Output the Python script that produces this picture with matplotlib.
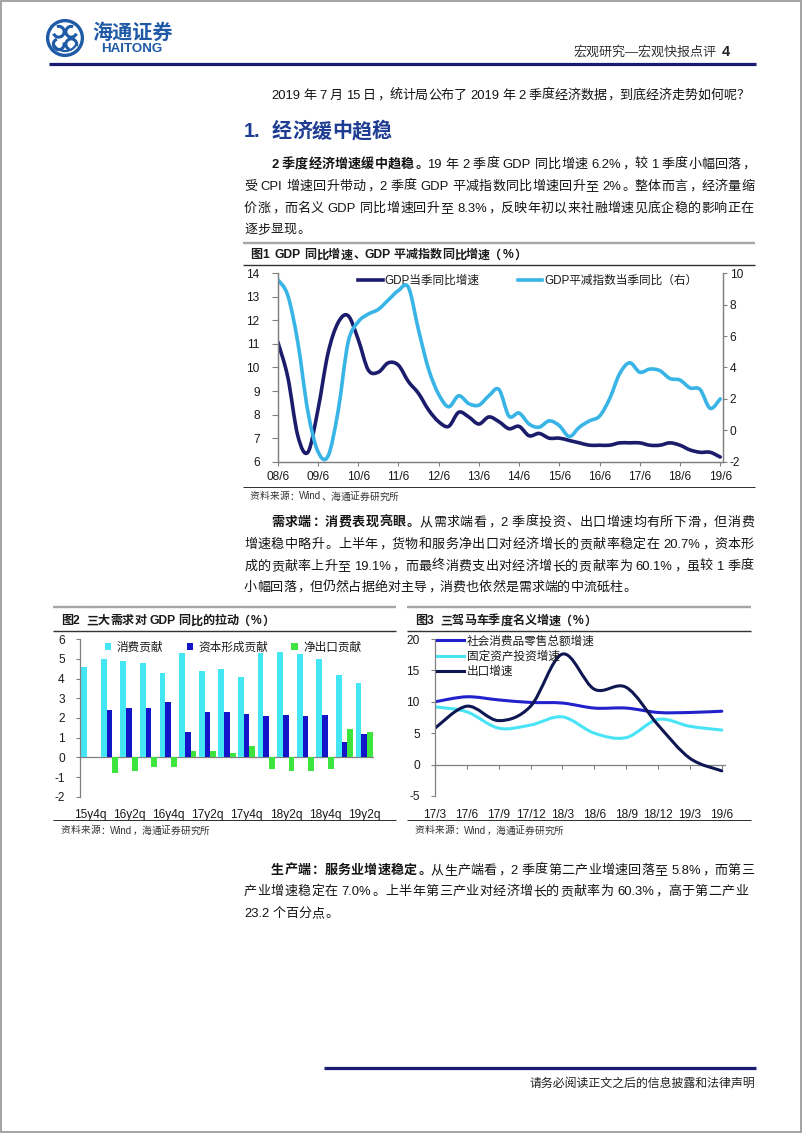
import numpy as np
import matplotlib
matplotlib.use("Agg")
import matplotlib.pyplot as plt
from matplotlib.path import Path
from matplotlib.patches import PathPatch, Rectangle, Circle, Arc, Patch
from matplotlib.lines import Line2D

plt.rcParams['font.family'] = ['Liberation Sans', 'Noto Sans CJK SC']
plt.rcParams['axes.unicode_minus'] = False

# ---------------- data ----------------
# Fig 1: quarterly, 2008Q2 .. 2019Q2
gdp_yoy = [11.1, 9.6, 7.1, 6.4, 8.2, 10.6, 11.9, 12.2, 11.2, 9.9, 9.8, 10.2, 10.1,
           9.4, 8.9, 8.2, 7.7, 7.5, 8.1, 7.9, 7.6, 7.9, 7.7, 7.4, 7.5, 7.1, 7.2,
           7.0, 7.0, 6.9, 6.8, 6.7, 6.7, 6.7, 6.8, 6.8, 6.8, 6.7, 6.7, 6.8, 6.7,
           6.5, 6.4, 6.4, 6.2]
deflator_yoy = [9.6, 8.6, 5.6, 1.2, -1.35, -1.65, 1.2, 5.6, 6.9, 7.4, 7.7, 8.3, 8.9,
                9.1, 6.4, 3.9, 2.3, 1.5, 2.2, 1.7, 1.6, 2.2, 2.6, 0.9, 1.1, 0.4, 0.2,
                0.6, 0.3, -0.4, 0.2, 0.6, 0.9, 2.0, 3.6, 4.3, 3.7, 3.9, 3.8, 3.3, 3.2,
                2.7, 2.6, 1.4, 2.0]
fig1_xlabels = ['08/6', '09/6', '10/6', '11/6', '12/6', '13/6', '14/6', '15/6',
                '16/6', '17/6', '18/6', '19/6']

# Fig 2: quarterly 15y4q .. 19y2q
fig2_cats = ['15y4q', '16y1q', '16y2q', '16y3q', '16y4q', '17y1q', '17y2q', '17y3q',
             '17y4q', '18y1q', '18y2q', '18y3q', '18y4q', '19y1q', '19y2q']
consumption = [4.6, 5.0, 4.9, 4.8, 4.3, 5.3, 4.4, 4.5, 4.1, 5.3, 5.35, 5.25, 5.0, 4.2, 3.8]
capital = [np.nan, 2.4, 2.5, 2.5, 2.8, 1.3, 2.3, 2.3, 2.2, 2.1, 2.13, 2.12, 2.13, 0.77, 1.2]
net_exports = [np.nan, -0.8, -0.7, -0.5, -0.5, 0.3, 0.3, 0.2, 0.6, -0.6, -0.7, -0.7, -0.6, 1.45, 1.3]

# Fig 3
fig3_cats = ['17/3', '17/6', '17/9', '17/12', '18/3', '18/6', '18/9', '18/12', '19/3', '19/6']
retail = [10.0, 10.8, 10.3, 9.9, 9.8, 9.0, 9.0, 8.3, 8.3, 8.5]
fai = [9.2, 8.4, 5.8, 6.3, 7.6, 5.0, 4.3, 7.2, 6.1, 5.5]
exports = [5.8, 9.3, 7.0, 9.3, 17.6, 12.0, 12.3, 6.3, 1.0, -1.0]

# ---------------- figure helpers ----------------
W, H = 802, 1133
fig = plt.figure(figsize=(W / 100, H / 100), dpi=100)
fig.patch.set_facecolor('white')


def fx(x):
    return x / W


def fy(y):
    return 1 - y / H


def rect(l, r, t, b):
    return [l / W, 1 - b / H, (r - l) / W, (b - t) / H]


def hline(x0, x1, y, color, lw_px):
    fig.add_artist(Line2D([fx(x0), fx(x1)], [fy(y), fy(y)], transform=fig.transFigure,
                          color=color, lw=lw_px * 0.72, solid_capstyle='butt'))


renderer = fig.canvas.get_renderer()
LEFT_PUNCT = set('，。、：；！？）')


def draw_line(segs, x0, yc, size, x1=None, color='#141414'):
    toks = []
    for text, bold in segs:
        run = ''
        for ch in text:
            if ch == ' ':
                if run:
                    toks.append((run, bold, 'lat'))
                    run = ''
                toks.append((' ', bold, 'sp'))
            elif ord(ch) >= 0x2E80:
                if run:
                    toks.append((run, bold, 'lat'))
                    run = ''
                toks.append((ch, bold, 'cjk'))
            else:
                run += ch
        if run:
            toks.append((run, bold, 'lat'))
    em = size / 72 * 100
    yb = fy(yc + 0.36 * em)
    items = []
    for s, b, k in toks:
        if k == 'sp':
            items.append((None, 0.25 * em, k, s))
            continue
        t = fig.text(0, yb, s, fontsize=size, fontweight='bold' if b else 'normal',
                     color=color, va='baseline', ha='left')
        if k == 'cjk':
            w = em
        else:
            w = t.get_window_extent(renderer).width
        items.append((t, w, k, s))
    total = sum(it[1] for it in items)
    extra = 0
    if x1 is not None and len(items) > 1:
        extra = (x1 - x0 - total) / (len(items) - 1)
    x = x0
    for t, w, k, s in items:
        if t is not None:
            if k == 'cjk':
                if s in LEFT_PUNCT:
                    t.set_ha('left'); t.set_x(fx(x + 0.08 * em))
                elif s == '（':
                    t.set_ha('right'); t.set_x(fx(x + 0.92 * em))
                else:
                    t.set_ha('center'); t.set_x(fx(x + 0.5 * em))
            else:
                t.set_x(fx(x))
        x += w + extra


# ---------------- page decoration ----------------
fig.add_artist(Rectangle((0.0008, 0.0006), 0.9984, 0.9988, transform=fig.transFigure,
                         fill=False, edgecolor='#8a8a8a', lw=1.1))

logo_blue = '#1f5aa6'
lax = fig.add_axes(rect(45, 85, 18, 58))
lax.set_xlim(-1.15, 1.15); lax.set_ylim(-1.15, 1.15); lax.set_aspect('equal'); lax.axis('off')
lax.add_patch(Circle((0, 0), 1.0, fill=False, ec=logo_blue, lw=2.4))
for cx, cy, t1, t2 in [(-0.36, 0.36, 200, 470), (0.36, 0.36, 70, 340),
                       (-0.36, -0.36, 110, 380), (0.36, -0.36, -20, 250)]:
    lax.add_patch(Arc((cx, cy), 0.62, 0.62, theta1=t1, theta2=t2, ec=logo_blue, lw=2.2))
lax.add_patch(Arc((0, 0.0), 1.5, 1.5, theta1=200, theta2=340, ec=logo_blue, lw=1.6))
fig.text(fx(92), fy(33), '海通证券', fontsize=14.5, fontweight='bold', color=logo_blue,
         va='center', ha='left', style='italic')
fig.text(fx(101), fy(49), 'HAITONG', fontsize=9.6, fontweight='bold', color=logo_blue,
         va='center', ha='left')

fig.text(fx(716), fy(52), '宏观研究—宏观快报点评', fontsize=9.4, color='#333333',
         va='center', ha='right')
fig.text(fx(722), fy(52), '4', fontsize=10.5, fontweight='bold', color='#222222',
         va='center', ha='left')
hline(49, 756, 64, '#1b1a72', 3.2)

# ---------------- body text ----------------
BODY = 9.4
RIGHT = 754
draw_line([("2019 年 7 月 15 日，统计局公布了 2019 年 2 季度经济数据，到底经济走势如何呢？", False)],
          271, 94, BODY, 749)
draw_line([("1.", True)], 244, 130, 14.4, None, color='#1e3d92')
draw_line([("经济缓中趋稳", True)], 272, 130, 14.4, None, color='#1e3d92')

para1 = [
    ([("2 季度经济增速缓中趋稳。", True), ("19 年 2 季度 GDP 同比增速 6.2%，较 1 季度小幅回落，", False)], 271, 163, RIGHT),
    ([("受 CPI 增速回升带动，2 季度 GDP 平减指数同比增速回升至 2%。整体而言，经济量缩", False)], 244, 185, RIGHT),
    ([("价涨，而名义 GDP 同比增速回升至 8.3%，反映年初以来社融增速见底企稳的影响正在", False)], 244, 207, RIGHT),
    ([("逐步显现。", False)], 244, 228, None),
]
para2 = [
    ([("需求端：消费表现亮眼。", True), ("从需求端看，2 季度投资、出口增速均有所下滑，但消费", False)], 271, 521, RIGHT),
    ([("增速稳中略升。上半年，货物和服务净出口对经济增长的贡献率稳定在 20.7%，资本形", False)], 244, 543, RIGHT),
    ([("成的贡献率上升至 19.1%，而最终消费支出对经济增长的贡献率为 60.1%，虽较 1 季度", False)], 244, 565, RIGHT),
    ([("小幅回落，但仍然占据绝对主导，消费也依然是需求端的中流砥柱。", False)], 244, 586, None),
]
para3 = [
    ([("生产端：服务业增速稳定。", True), ("从生产端看，2 季度第二产业增速回落至 5.8%，而第三", False)], 271, 869, RIGHT),
    ([("产业增速稳定在 7.0%。上半年第三产业对经济增长的贡献率为 60.3%，高于第二产业", False)], 244, 890, 748),
    ([("23.2 个百分点。", False)], 244, 912, None),
]
for para in (para1, para2, para3):
    for segs, x0, y, x1 in para:
        draw_line(segs, x0, y, BODY, x1)

# footer
hline(324, 756, 1068, '#1b1a72', 3.2)
fig.text(fx(755), fy(1084), '请务必阅读正文之后的信息披露和法律声明', fontsize=8.6,
         color='#222222', va='center', ha='right')

# ---------------- chart frames ----------------
GREY_TOP = '#a6a6a6'
DARK = '#333333'
TITLE = 8.7
SRC = 7.0

# Fig 1 frame
hline(243, 755, 243, GREY_TOP, 2.4)
draw_line([("图1  GDP 同比增速、GDP 平减指数同比增速（%）", True)], 250, 254, TITLE, None, color='#1a1a1a')
hline(243, 755, 265, DARK, 1.4)
hline(243, 755, 487, DARK, 1.0)
draw_line([("资料来源：Wind、海通证券研究所", False)], 250, 496, SRC, None, color='#333333')

# Fig 2 frame
hline(53, 396, 607, GREY_TOP, 2.4)
draw_line([("图2  三大需求对 GDP 同比的拉动（%）", True)], 61, 620, TITLE, None, color='#1a1a1a')
hline(53, 396, 631, DARK, 1.4)
hline(53, 396, 820, DARK, 1.0)
draw_line([("资料来源：Wind，海通证券研究所", False)], 61, 830, SRC, None, color='#333333')

# Fig 3 frame
hline(407, 751, 607, GREY_TOP, 2.4)
draw_line([("图3  三驾马车季度名义增速（%）", True)], 415, 620, TITLE, None, color='#1a1a1a')
hline(407, 751, 631, DARK, 1.4)
hline(407, 751, 820, DARK, 1.0)
draw_line([("资料来源：Wind，海通证券研究所", False)], 415, 830, SRC, None, color='#333333')


# ---------------- smoothing (Excel-style bezier) ----------------
def smooth_patch(xs, ys, color, lw):
    pts = np.column_stack([np.asarray(xs, float), np.asarray(ys, float)])
    n = len(pts)
    verts = [pts[0]]
    codes = [Path.MOVETO]
    for i in range(n - 1):
        p0 = pts[i - 1] if i > 0 else pts[i]
        p1 = pts[i]
        p2 = pts[i + 1]
        p3 = pts[i + 2] if i + 2 < n else pts[i + 1]
        c1 = p1 + (p2 - p0) / 6.0
        c2 = p2 - (p3 - p1) / 6.0
        verts += [c1, c2, p2]
        codes += [Path.CURVE4] * 3
    return PathPatch(Path(verts, codes), fill=False, edgecolor=color, lw=lw,
                     capstyle='round', joinstyle='round')


SPINE = '#808080'
TICKFS = 8.6
TXT = '#1a1a1a'

# ---------------- Figure 1 ----------------
c_gdp = '#1c1c6c'
c_def = '#38b4e6'
ax1 = fig.add_axes(rect(277.7, 722.7, 273.3, 461.7))
ax1b = ax1.twinx()
x1 = np.arange(len(gdp_yoy))
ax1.add_patch(smooth_patch(x1, gdp_yoy, c_gdp, 2.6))
ax1b.add_patch(smooth_patch(x1, deflator_yoy, c_def, 2.6))
ax1.set_xlim(0, 44.25)
ax1.set_ylim(6, 14)
ax1b.set_ylim(-2, 10)
ax1.set_yticks(np.arange(6, 15, 1))
ax1b.set_yticks(np.arange(-2, 11, 2))
ax1.set_xticks(np.arange(0, 45, 4))
ax1.set_xticklabels(fig1_xlabels)
for a in (ax1, ax1b):
    a.patch.set_visible(False)
    a.spines['top'].set_visible(False)
    for s in ('left', 'right', 'bottom'):
        a.spines[s].set_color(SPINE)
        a.spines[s].set_linewidth(0.9)
ax1.tick_params(axis='y', direction='out', length=4, pad=9, color=SPINE, labelsize=TICKFS, labelcolor=TXT)
ax1b.tick_params(axis='y', direction='out', length=3, pad=2, color=SPINE, labelsize=TICKFS, labelcolor=TXT)
ax1.tick_params(axis='x', direction='out', length=3, pad=4, color=SPINE, labelsize=TICKFS, labelcolor=TXT)
leg1 = ax1b.legend([Line2D([], [], color=c_gdp, lw=2.6), Line2D([], [], color=c_def, lw=2.6)],
                   ['GDP当季同比增速', 'GDP平减指数当季同比（右）'],
                   loc='center left', bbox_to_anchor=(fx(358), fy(281)),
                   bbox_transform=fig.transFigure, ncol=2, frameon=False, fontsize=8.4,
                   handlelength=2.1, handletextpad=0.15, columnspacing=3.3,
                   borderpad=0, borderaxespad=0)
for t in leg1.get_texts():
    t.set_color(TXT)

# ---------------- Figure 2 ----------------
c_cons = '#44e6f4'
c_cap = '#1414c8'
c_nx = '#3ee43e'
ax2 = fig.add_axes(rect(80, 374, 639.3, 796.7))
x2 = np.arange(len(fig2_cats))
bw = 0.29
ax2.bar(x2 - bw, consumption, bw, color=c_cons, zorder=2)
ax2.bar(x2, capital, bw, color=c_cap, zorder=2)
ax2.bar(x2 + bw, net_exports, bw, color=c_nx, zorder=2)
ax2.set_xlim(-0.5, 14.5)
ax2.set_ylim(-2, 6)
ax2.set_yticks(np.arange(-2, 7, 1))
ax2.set_xticks(x2[::2])
ax2.set_xticklabels(fig2_cats[::2])
ax2.axhline(0, color=SPINE, lw=0.9, zorder=1)
for s in ('top', 'right', 'bottom'):
    ax2.spines[s].set_visible(False)
ax2.spines['left'].set_color(SPINE)
ax2.spines['left'].set_linewidth(0.9)
ax2.tick_params(axis='y', direction='out', length=3, pad=8, color=SPINE, labelsize=TICKFS, labelcolor=TXT)
ax2.tick_params(axis='x', length=0, pad=9, labelsize=TICKFS, labelcolor=TXT)
leg2 = ax2.legend([Patch(facecolor=c_cons), Patch(facecolor=c_cap), Patch(facecolor=c_nx)],
                  ['消费贡献', '资本形成贡献', '净出口贡献'],
                  loc='center left', bbox_to_anchor=(fx(105), fy(647.5)),
                  bbox_transform=fig.transFigure, ncol=3, frameon=False, fontsize=8.4,
                  handlelength=0.55, handleheight=0.55, handletextpad=0.45, columnspacing=2.0,
                  borderpad=0, borderaxespad=0)
for t in leg2.get_texts():
    t.set_color(TXT)

# ---------------- Figure 3 ----------------
c_ret = '#2222cc'
c_fai = '#48e4f6'
c_exp = '#0f1752'
ax3 = fig.add_axes(rect(435, 725, 639, 796))
x3 = np.arange(len(fig3_cats))
ax3.add_patch(smooth_patch(x3, retail, c_ret, 2.2))
ax3.add_patch(smooth_patch(x3, fai, c_fai, 2.2))
ax3.add_patch(smooth_patch(x3, exports, c_exp, 2.2))
ax3.set_xlim(0, 9.1)
ax3.set_ylim(-5, 20)
ax3.set_yticks(np.arange(-5, 21, 5))
ax3.set_xticks(x3)
ax3.set_xticklabels(fig3_cats)
for s in ('top', 'right', 'bottom'):
    ax3.spines[s].set_visible(False)
ax3.spines['left'].set_color(SPINE)
ax3.spines['left'].set_linewidth(0.9)
ax3.tick_params(axis='y', direction='out', length=3, pad=8, color=SPINE, labelsize=TICKFS, labelcolor=TXT)
ax3.tick_params(axis='x', length=0, pad=9, labelsize=TICKFS, labelcolor=TXT)
sec = ax3.secondary_xaxis(0.2)
sec.set_xticks(x3)
sec.set_xticklabels([])
sec.tick_params(direction='out', length=3, color=SPINE)
for s in sec.spines.values():
    s.set_color(SPINE)
    s.set_linewidth(0.9)
leg3 = ax3.legend([Line2D([], [], color=c_ret, lw=2.2), Line2D([], [], color=c_fai, lw=2.2),
                   Line2D([], [], color=c_exp, lw=2.2)],
                  ['社会消费品零售总额增速', '固定资产投资增速', '出口增速'],
                  loc='upper left', bbox_to_anchor=(fx(436.7), fy(635.5)),
                  bbox_transform=fig.transFigure, ncol=1, frameon=False, fontsize=8.4,
                  handlelength=2.3, handletextpad=0.3, labelspacing=0.28,
                  borderpad=0, borderaxespad=0)
for t in leg3.get_texts():
    t.set_color(TXT)

fig.savefig('out.png', dpi=100, facecolor='white')
